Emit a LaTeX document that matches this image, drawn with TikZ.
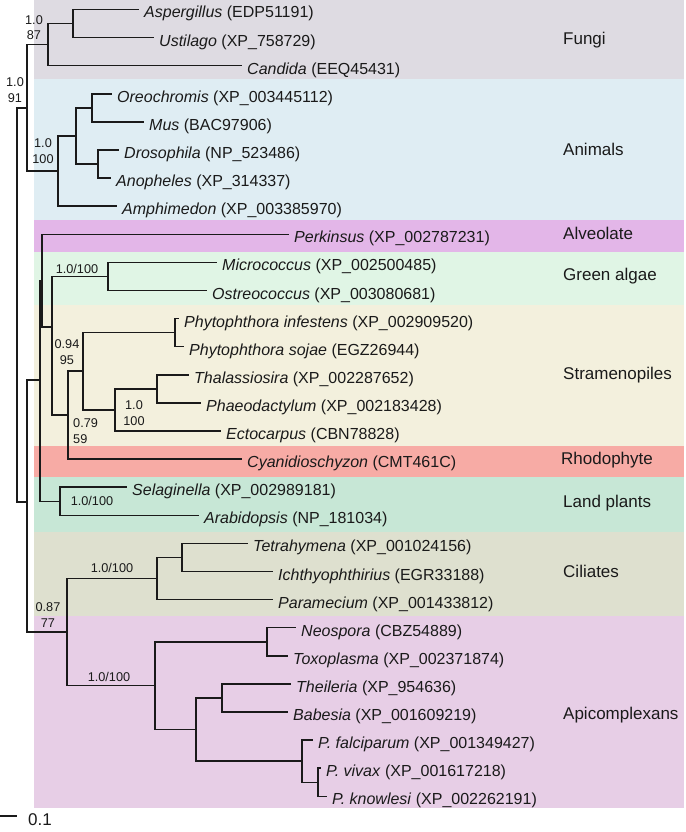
\documentclass[tikz,border=0pt]{standalone}
\usepackage{fontspec}
\setmainfont{Liberation Sans}

\definecolor{fungibg}{HTML}{DEDBE2}
\definecolor{animalbg}{HTML}{DFEDF3}
\definecolor{alveolatebg}{HTML}{E3B6E8}
\definecolor{greenbg}{HTML}{E0F5E5}
\definecolor{stramenobg}{HTML}{F3F0DD}
\definecolor{rhodobg}{HTML}{F7ABA5}
\definecolor{landbg}{HTML}{C7E7D6}
\definecolor{ciliatebg}{HTML}{DEE0CF}
\definecolor{apicobg}{HTML}{E7CEE6}
\definecolor{ink}{HTML}{1A1A1A}

\begin{document}
\begin{tikzpicture}[x=1pt,y=-1pt,
	branch/.style={line width=1.45pt,draw=ink},
	taxon/.style={anchor=west,inner xsep=5pt,inner ysep=0pt,text height=17pt,text depth=0pt,text=ink,font=\fontsize{16}{19}\selectfont},
	clade/.style={anchor=west,inner sep=0pt,text height=1.5ex,text depth=.25ex,text=ink,font=\fontsize{17}{20}\selectfont},
	support/.style={inner sep=0pt,align=center,text=ink,font=\fontsize{12.7}{15.5}\selectfont}]
	\newcommand\rowtop{9.5}
	\newcommand\rowstep{28.1}
	\useasboundingbox (0,0) rectangle (685,832);
	% coloured bands
	\foreach \ya/\yb/\col in {0/79/fungibg,79/220/animalbg,220/252/alveolatebg,252/305/greenbg,305/446/stramenobg,446/477/rhodobg,477/532/landbg,532/616/ciliatebg,616/808/apicobg} {
		\fill[\col] (34,\ya) rectangle (684,\yb);
	}
	% leaves
	\foreach \x/\gen/\acc/\nm [count=\row from 0] in {
		139/Aspergillus/EDP51191/asp,
		154/Ustilago/XP\_758729/ust,
		242/Candida/EEQ45431/cand,
		112/Oreochromis/XP\_003445112/oreo,
		144/Mus/BAC97906/mus,
		119/Drosophila/NP\_523486/dros,
		111/Anopheles/XP\_314337/anoph,
		117/Amphimedon/XP\_003385970/amph,
		289/Perkinsus/XP\_002787231/perk,
		217/Micrococcus/XP\_002500485/micro,
		207/Ostreococcus/XP\_003080681/ostreo,
		179/Phytophthora infestens/XP\_002909520/phinf,
		184/Phytophthora sojae/EGZ26944/phsoj,
		189/Thalassiosira/XP\_002287652/thal,
		201/Phaeodactylum/XP\_002183428/phaeo,
		221/Ectocarpus/CBN78828/ecto,
		242/Cyanidioschyzon/CMT461C/cyan,
		127/Selaginella/XP\_002989181/sela,
		199/Arabidopsis/NP\_181034/arab,
		248/Tetrahymena/XP\_001024156/tetra,
		273/Ichthyophthirius/EGR33188/ichth,
		273/Paramecium/XP\_001433812/param,
		296/Neospora/CBZ54889/neo,
		288/Toxoplasma/XP\_002371874/toxo,
		291/Theileria/XP\_954636/theil,
		288/Babesia/XP\_001609219/babe,
		313/P. falciparum/XP\_001349427/pfal,
		321/P. vivax/XP\_001617218/pviv,
		327/P. knowlesi/XP\_002262191/pkno} {
		\node[taxon] (\nm) at (\x,\rowtop+\row*\rowstep) {\textit{\gen} (\acc)};
	}
	% inner nodes
	\coordinate (root) at (17,305);
	\coordinate (nOp) at (27,108);
	\coordinate (nFun) at (48,44.6);
	\coordinate (nAU) at (73,23.6);
	\coordinate (nAni) at (58,171);
	\coordinate (nBil) at (76,136);
	\coordinate (nOM) at (92,107.9);
	\coordinate (nDA) at (98,164);
	\coordinate (nX) at (27,502);
	\coordinate (nN0) at (40,380);
	\coordinate (nN1) at (42,281);
	\coordinate (nN2) at (52,327);
	\coordinate (nGA) at (108,276.5);
	\coordinate (nSR) at (68,415);
	\coordinate (nStr) at (83,371);
	\coordinate (nPhy) at (175,332.7);
	\coordinate (nDia) at (115,410);
	\coordinate (nTP) at (157,388.9);
	\coordinate (nLP) at (60,501.3);
	\coordinate (nAlv) at (67,632);
	\coordinate (nCil) at (157,578.5);
	\coordinate (nTI) at (182,557.5);
	\coordinate (nApi) at (155,685.7);
	\coordinate (nNT) at (267,641.8);
	\coordinate (nPir) at (196,729.6);
	\coordinate (nTB) at (222,698);
	\coordinate (nPl) at (302,761.2);
	\coordinate (nVK) at (318,782.3);
	% branches
	\foreach \p/\c in {root/nOp,root/nX,
		nOp/nFun,nOp/nAni,nFun/nAU,nFun/cand,nAU/asp,nAU/ust,
		nAni/nBil,nAni/amph,nBil/nOM,nBil/nDA,nOM/oreo,nOM/mus,nDA/dros,nDA/anoph,
		nX/nN0,nX/nAlv,nN0/nN1,nN0/nLP,nN1/perk,nN1/nN2,nN2/nGA,nN2/nSR,nGA/micro,nGA/ostreo,
		nSR/nStr,nSR/cyan,nStr/nPhy,nStr/nDia,nPhy/phinf,nPhy/phsoj,nDia/nTP,nDia/ecto,nTP/thal,nTP/phaeo,
		nLP/sela,nLP/arab,
		nAlv/nCil,nAlv/nApi,nCil/nTI,nCil/param,nTI/tetra,nTI/ichth,
		nApi/nNT,nApi/nPir,nNT/neo,nNT/toxo,nPir/nTB,nPir/nPl,nTB/theil,nTB/babe,nPl/pfal,nPl/nVK,nVK/pviv,nVK/pkno} {
		\draw[branch] (\p) |- (\c);
	}
	% support values
	\node[support] (sFun) at (34,27.5) {1.0\\87};
	\node[support] (sOp) at (15,90) {1.0\\91};
	\node[support] (sAni) at (43,151) {1.0\\100};
	\node[support] (sGA) at (77,269) {1.0/100};
	\node[support] (sSR) at (67,352) {0.94\\95};
	\node[support] (sDia) at (134,413) {1.0\\100};
	\node[support,align=left,anchor=west] (sStr) at (73,431) {0.79\\59};
	\node[support] (sLP) at (92,501) {1.0/100};
	\node[support] (sCil) at (112,568) {1.0/100};
	\node[support] (sAlv) at (48,615) {0.87\\77};
	\node[support] (sApi) at (109,677) {1.0/100};
	% clade names
	\node[clade] (gFun) at (563,41) {Fungi};
	\node[clade] (gAni) at (563,152) {Animals};
	\node[clade] (gAlv) at (563,236) {Alveolate};
	\node[clade] (gGreen) at (563,277) {Green algae};
	\node[clade] (gStr) at (563,376) {Stramenopiles};
	\node[clade] (gRho) at (561,461) {Rhodophyte};
	\node[clade] (gLand) at (563,504) {Land plants};
	\node[clade] (gCil) at (563,574) {Ciliates};
	\node[clade] (gApi) at (563,716) {Apicomplexans};
	% scale bar
	\coordinate (sbA) at (0,816);
	\coordinate (sbB) at (17,816);
	\draw[branch] (sbA) -- (sbB);
	\node[clade] (sbLab) at (28,822) {0.1};
\end{tikzpicture}
\end{document}
